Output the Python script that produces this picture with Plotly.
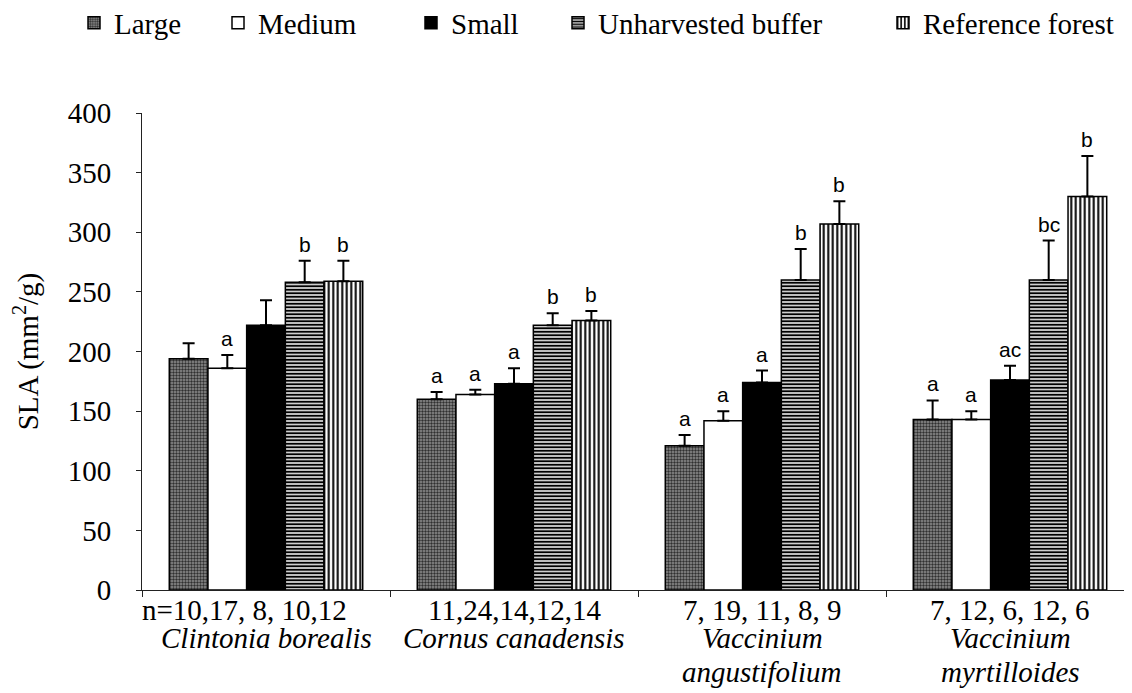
import plotly.graph_objects as go

# ---------------- data ----------------
categories = ["Clintonia borealis", "Cornus canadensis",
              "Vaccinium angustifolium", "Vaccinium myrtilloides"]

series_names = ["Large", "Medium", "Small", "Unharvested buffer", "Reference forest"]

large = [194, 160, 121, 143]
large_err = [13, 6, 9, 16]
medium = [186, 164, 142, 143]
medium_err = [11, 4, 8, 7]
small = [222, 173, 174, 176]
small_err = [21, 13, 10, 12]
unharvested = [258, 222, 260, 260]
unharvested_err = [18, 10, 26, 33]
reference = [259, 226, 307, 330]
reference_err = [17, 8, 19, 34]

large_letters = ["", "a", "a", "a"]
medium_letters = ["a", "a", "a", "a"]
small_letters = ["", "a", "a", "ac"]
unharvested_letters = ["b", "b", "b", "bc"]
reference_letters = ["b", "b", "b", "b"]

n_labels = ["n=10,17, 8, 10,12", "11,24,14,12,14", "7, 19, 11, 8, 9", "7, 12, 6, 12, 6"]
species_line1 = ["Clintonia borealis", "Cornus canadensis", "Vaccinium", "Vaccinium"]
species_line2 = ["", "", "angustifolium", "myrtilloides"]

y_ticks = [0, 50, 100, 150, 200, 250, 300, 350, 400]

# ---------------- styling ----------------
values = [large, medium, small, unharvested, reference]
errors = [large_err, medium_err, small_err, unharvested_err, reference_err]
letters = [large_letters, medium_letters, small_letters, unharvested_letters, reference_letters]

patterns = [
    dict(shape=".", fgcolor="#303030", bgcolor="#909090", size=3, solidity=0.5, fillmode="replace"),
    dict(shape="", fgcolor="black", bgcolor="white"),
    dict(shape="", fgcolor="black", bgcolor="black"),
    dict(shape="-", fgcolor="black", bgcolor="white", size=3.5, solidity=0.6, fillmode="replace"),
    dict(shape="|", fgcolor="black", bgcolor="white", size=4.5, solidity=0.45, fillmode="replace"),
]
fill_colors = ["#7a7a7a", "white", "black", "white", "white"]

serif = "Liberation Serif, Times New Roman, Times, serif"
sans = "Liberation Sans, Arial, sans-serif"

BARGAP = 0.22
n_series = len(series_names)
bar_w = (1 - BARGAP) / n_series

# figure size (the page body adds an 8px margin around the figure)
W, H = 1124, 685
L, R, T, B = 134, 0, 105, 103
plot_h = H - T - B
plot_w = W - L - R

legend_x_px = [66, 210, 403, 550, 875]
legend_y_px = 15

fig = go.Figure()
legend_ids = ["legend", "legend2", "legend3", "legend4", "legend5"]

for i, name in enumerate(series_names):
    fig.add_trace(go.Bar(
        name=name,
        x=categories,
        y=values[i],
        marker=dict(color=fill_colors[i], pattern=patterns[i],
                    line=dict(color="black", width=1.5)),
        error_y=dict(type="data", array=errors[i], arrayminus=[0] * len(errors[i]),
                     symmetric=False, color="black", thickness=2, width=6),
        legend=legend_ids[i],
        showlegend=True,
    ))

annotations = []
# significance letters
for i in range(n_series):
    for c in range(len(categories)):
        txt = letters[i][c]
        if not txt:
            continue
        annotations.append(dict(
            x=c + (i - (n_series - 1) / 2) * bar_w, xref="x",
            y=values[i][c] + errors[i][c], yref="y",
            text=txt, showarrow=False, yanchor="bottom", xanchor="center",
            yshift=3, font=dict(family=sans, size=21, color="black"),
        ))


def paper_y(py):
    return (H - B - py) / plot_h


# category labels (sample sizes and species names)
for c in range(len(categories)):
    annotations.append(dict(
        x=c, xref="x", y=paper_y(602), yref="paper",
        text=n_labels[c], showarrow=False, xanchor="center", yanchor="middle",
        xshift=-22 if c == 0 else 0,
        font=dict(family=serif, size=29, color="black"),
    ))
    annotations.append(dict(
        x=c, xref="x", y=paper_y(630), yref="paper",
        text="<i>" + species_line1[c] + "</i>", showarrow=False,
        xanchor="center", yanchor="middle",
        font=dict(family=serif, size=29, color="black"),
    ))
    if species_line2[c]:
        annotations.append(dict(
            x=c, xref="x", y=paper_y(664), yref="paper",
            text="<i>" + species_line2[c] + "</i>", showarrow=False,
            xanchor="center", yanchor="middle",
            font=dict(family=serif, size=29, color="black"),
        ))

layout_legends = {}
for i, lid in enumerate(legend_ids):
    layout_legends[lid] = dict(
        x=legend_x_px[i] / W, y=1 - legend_y_px / H,
        xref="container", yref="container",
        xanchor="left", yanchor="middle", orientation="h",
        bgcolor="rgba(0,0,0,0)", borderwidth=0,
        font=dict(family=serif, size=29, color="black"),
        itemwidth=30,
    )

fig.update_layout(
    width=W, height=H,
    margin=dict(l=L, r=R, t=T, b=B, pad=0, autoexpand=False),
    paper_bgcolor="white", plot_bgcolor="white",
    barmode="group", bargap=BARGAP, bargroupgap=0,
    font=dict(family=serif, size=29, color="black"),
    annotations=annotations,
    xaxis=dict(
        type="category", range=[-0.5, -0.5 + plot_w / 248.0],
        showticklabels=False, showline=True, linecolor="#222", linewidth=1,
        ticks="outside", tickson="boundaries", ticklen=6, tickcolor="#222",
        showgrid=False, zeroline=False, fixedrange=True,
    ),
    yaxis=dict(
        range=[0, 400], tickvals=y_ticks, ticks="outside", ticklen=5,
        tickcolor="#222", showline=True, linecolor="#222", linewidth=1,
        showgrid=False, zeroline=False, ticklabelstandoff=19,
        tickfont=dict(family=serif, size=29, color="black"),
        title=dict(text="SLA (mm<sup>2</sup>/g)", standoff=22,
                   font=dict(family=serif, size=29, color="black")),
    ),
    **layout_legends,
)

fig.write_html("out.html")
